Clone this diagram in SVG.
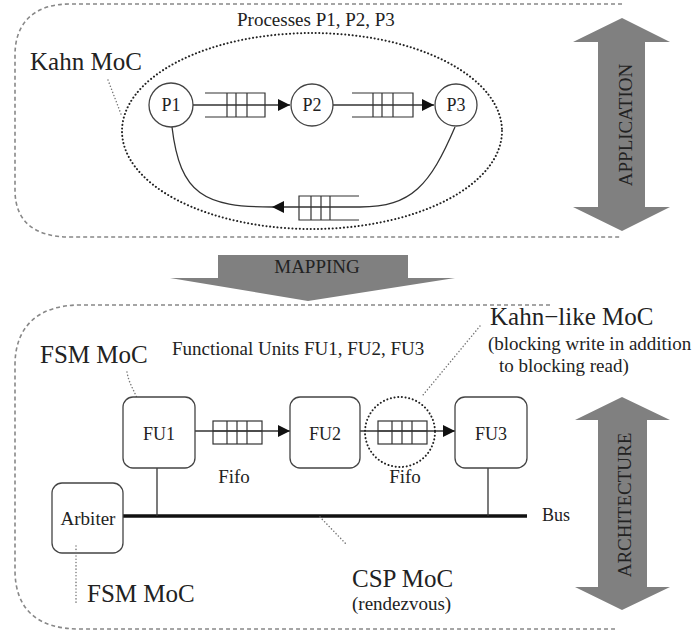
<svg xmlns="http://www.w3.org/2000/svg" width="694" height="635" viewBox="0 0 694 635" font-family="'Liberation Serif', 'Times New Roman', Times, 'Noto Serif', 'DejaVu Serif', serif">
  <style>
    text { font-family: "Liberation Serif", "Times New Roman", Times, "Noto Serif", "DejaVu Serif", serif; fill: #222; }
    .s { font-size: 19px; }
    .m { font-size: 18px; }
    .l { font-size: 25px; }
    .mid { text-anchor: middle; }
    .region { fill: none; stroke: #888; stroke-width: 1.6; stroke-dasharray: 4 3; }
    .dots { fill: none; stroke: #222; stroke-width: 2; stroke-dasharray: 0.1 3.6; stroke-linecap: round; }
    .leader { fill: none; stroke: #777; stroke-width: 1.5; stroke-dasharray: 0.1 3.2; stroke-linecap: round; }
    .edge { fill: none; stroke: #333; stroke-width: 1.3; }
    .node { fill: #fff; stroke: #444; stroke-width: 1.3; }
    .fifo { fill: none; stroke: #333; stroke-width: 1.2; }
    .big { fill: #808080; }
    .bus { stroke: #111; stroke-width: 3.5; }
  </style>
  <defs>
    <marker id="arrow" viewBox="0 0 12 12" refX="12" refY="6" markerWidth="12" markerHeight="12" markerUnits="userSpaceOnUse" orient="auto">
      <path d="M0,0 L12,6 L0,12 Z" fill="#111"/>
    </marker>
  </defs>

  <!-- layer outlines -->
  <g id="application-layer">
    <path class="region" d="M622,4 H70 C35,4 15,22 15,55 V190 C15,222 35,237 70,237 H622"/>
    <polygon class="big" points="622,18 670,42 645,42 645,207 670,207 622,231 573,207 598,207 598,42 573,42"/>
    <text class="s mid" transform="translate(632,125) rotate(-90)">APPLICATION</text>
  </g>

  <g id="architecture-layer">
    <path class="region" d="M550,305 H80 C40,305 15,325 15,365 V570 C15,610 38,629 80,629 H618"/>
    <polygon class="big" points="622,397 670,420 647,420 647,587 670,587 622,610 575,587 598,587 598,420 575,420"/>
    <text class="s mid" transform="translate(631,505) rotate(-90)">ARCHITECTURE</text>
  </g>

  <g id="mapping">
    <polygon class="big" points="218,255 408,255 408,278 455,278 308,301 170,278 218,278"/>
    <text class="s mid" x="317" y="273">MAPPING</text>
  </g>

  <!-- Kahn process network -->
  <g id="kahn-boundary">
    <ellipse class="dots" cx="312" cy="131" rx="190" ry="98"/>
    <text class="s" x="237" y="26">Processes P1, P2, P3</text>
    <text class="l" x="30" y="70">Kahn MoC</text>
    <path class="leader" d="M108,80 L121,114"/>
  </g>

  <g id="connectors">
    <!-- process channels -->
    <path class="edge" d="M193,105 H290" marker-end="url(#arrow)"/>
    <path class="edge" d="M333,105 H434" marker-end="url(#arrow)"/>
    <path class="edge" d="M455,127 C430,185 412,207 360,207 H272" marker-end="url(#arrow)"/>
    <path class="edge" d="M272,207 C205,207 180,195 172,127"/>
    <!-- FU channels -->
    <path class="edge" d="M195,431 H290" marker-end="url(#arrow)"/>
    <path class="edge" d="M360,431 H455" marker-end="url(#arrow)"/>
    <!-- bus -->
    <line class="bus" x1="123" y1="516" x2="527" y2="516"/>
    <line class="edge" x1="157" y1="468" x2="157" y2="516"/>
    <line class="edge" x1="488" y1="468" x2="488" y2="516"/>
  </g>

  <!-- FIFO queues of the process network -->
  <g id="queue-p1-p2" class="fifo">
    <path d="M205,93 H265 V117 H205 M227,93 V117 M236,93 V117 M247,93 V117"/>
  </g>
  <g id="queue-p2-p3" class="fifo">
    <path d="M352,93 H413 V117 H352 M373,93 V117 M382,93 V117 M393,93 V117"/>
  </g>
  <g id="queue-p3-p1" class="fifo">
    <path d="M359,196 H299 V220 H359 M311,196 V220 M321,196 V220 M330,196 V220"/>
  </g>

  <g id="p1">
    <circle class="node" cx="171" cy="105" r="22"/>
    <text class="m mid" x="171" y="111">P1</text>
  </g>
  <g id="p2">
    <circle class="node" cx="312" cy="105" r="21"/>
    <text class="m mid" x="312" y="111">P2</text>
  </g>
  <g id="p3">
    <circle class="node" cx="456" cy="105" r="21"/>
    <text class="m mid" x="456" y="111">P3</text>
  </g>

  <!-- functional units -->
  <text class="s" x="172" y="355">Functional Units FU1, FU2, FU3</text>
  <text class="l" x="40" y="363">FSM MoC</text>
  <path class="leader" d="M127,372 C130,390 140,395 141,417"/>

  <g id="fu1">
    <rect class="node" x="123" y="397" width="72" height="71" rx="10"/>
    <text class="m mid" x="159" y="440">FU1</text>
  </g>
  <g id="fu2">
    <rect class="node" x="290" y="397" width="70" height="71" rx="10"/>
    <text class="m mid" x="325" y="440">FU2</text>
  </g>
  <g id="fu3">
    <rect class="node" x="455" y="397" width="72" height="71" rx="10"/>
    <text class="m mid" x="491" y="440">FU3</text>
  </g>

  <g id="fifo-1">
    <rect class="fifo" x="213" y="421" width="49" height="23" fill="#fff"/>
    <path class="fifo" d="M227,421 V444 M237,421 V444 M247,421 V444 M213,431 H262"/>
    <text class="s mid" x="234" y="483">Fifo</text>
  </g>
  <g id="fifo-2">
    <rect class="fifo" x="378" y="421" width="49" height="23" fill="#fff"/>
    <path class="fifo" d="M392,421 V444 M402,421 V444 M412,421 V444 M378,431 H427"/>
    <circle class="dots" cx="400" cy="432" r="35"/>
    <text class="s mid" x="405" y="483">Fifo</text>
  </g>

  <text class="l" x="490" y="325">Kahn−like MoC</text>
  <text class="s" x="488" y="350">(blocking write in addition</text>
  <text class="s" x="499" y="372">to blocking read)</text>
  <path class="leader" d="M480,326 L423,395"/>

  <g id="arbiter">
    <rect class="node" x="52" y="483" width="71" height="70" rx="10"/>
    <text class="s mid" x="88" y="525">Arbiter</text>
  </g>
  <text class="m" x="542" y="521">Bus</text>

  <path class="leader" d="M76,546 V605"/>
  <text class="l" x="87" y="602">FSM MoC</text>

  <path class="leader" d="M320,517 L347,545"/>
  <text class="l" x="352" y="587">CSP MoC</text>
  <text class="s" x="352" y="610">(rendezvous)</text>
</svg>
